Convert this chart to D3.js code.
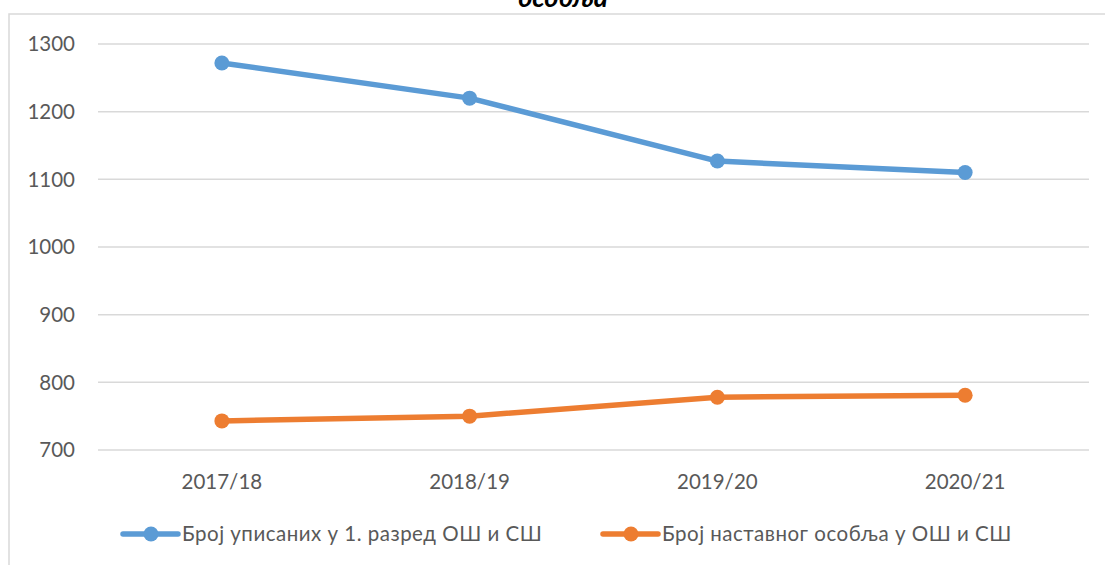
<!DOCTYPE html>
<html>
<head>
<meta charset="utf-8">
<script src="https://cdn.jsdelivr.net/npm/d3@7"></script>
<style>
  html, body { margin: 0; padding: 0; background: #fff; }
  svg { display: block; font-family: Lato, "Open Sans", sans-serif; }
</style>
</head>
<body>
<div id="chart"></div>
<script>
const years = ['2017/18', '2018/19', '2019/20', '2020/21'];
const enrolled = [1272, 1220, 1127, 1110];
const teachers = [743, 750, 778, 781];
const yTicks = [700, 800, 900, 1000, 1100, 1200, 1300];
const seriesNames = ['Број уписаних у 1. разред ОШ и СШ', 'Број наставног особља у ОШ и СШ'];
const seriesColors = ['#5B9BD5', '#ED7D31'];

const width = 1105, height = 565;
const fontSize = 20.5;
const svg = d3.select('#chart').append('svg')
    .attr('width', width)
    .attr('height', height);

// chart frame (partially cropped in the source)
svg.append('rect')
    .attr('x', 9).attr('y', 14)
    .attr('width', 1200).attr('height', 600)
    .attr('fill', 'none')
    .attr('stroke', '#d9d9d9')
    .attr('stroke-width', 1.5);

// title, cut off at the top like in the source image
svg.append('text')
    .attr('x', 563).attr('y', 7)
    .attr('text-anchor', 'middle')
    .attr('font-weight', 'bold')
    .attr('font-style', 'italic')
    .attr('font-size', 27)
    .attr('fill', '#000')
    .text('особља');

const x = d3.scaleBand().domain(years).range([98, 1089]);
const y = d3.scaleLinear().domain([700, 1300]).range([450, 44]);

// gridlines
svg.append('g')
    .selectAll('line')
    .data(yTicks)
    .enter().append('line')
    .attr('x1', 98).attr('x2', 1089)
    .attr('y1', d => y(d)).attr('y2', d => y(d))
    .attr('stroke', '#d9d9d9')
    .attr('stroke-width', 1.5);

// y labels
svg.append('g')
    .selectAll('text')
    .data(yTicks)
    .enter().append('text')
    .attr('x', 75)
    .attr('y', d => y(d))
    .attr('dy', '0.35em')
    .attr('text-anchor', 'end')
    .attr('font-size', fontSize)
    .attr('fill', '#595959')
    .text(d => d);

// x labels
svg.append('g')
    .selectAll('text')
    .data(years)
    .enter().append('text')
    .attr('x', d => x(d) + x.bandwidth() / 2)
    .attr('y', 482)
    .attr('dy', '0.35em')
    .attr('text-anchor', 'middle')
    .attr('font-size', fontSize)
    .attr('fill', '#595959')
    .text(d => d);

const line = d3.line()
    .x((d, i) => x(years[i]) + x.bandwidth() / 2)
    .y(d => y(d));

[enrolled, teachers].forEach((values, k) => {
    const g = svg.append('g');
    g.append('path')
        .datum(values)
        .attr('d', line)
        .attr('fill', 'none')
        .attr('stroke', seriesColors[k])
        .attr('stroke-width', 5.5)
        .attr('stroke-linejoin', 'round')
        .attr('stroke-linecap', 'round');
    g.selectAll('circle')
        .data(values)
        .enter().append('circle')
        .attr('cx', (d, i) => x(years[i]) + x.bandwidth() / 2)
        .attr('cy', d => y(d))
        .attr('r', 7.5)
        .attr('fill', seriesColors[k]);
});

// legend
const legendX = [123, 603];
const legend = svg.append('g')
    .selectAll('g')
    .data(seriesNames)
    .enter().append('g')
    .attr('transform', (d, i) => `translate(${legendX[i]},534)`);
legend.append('line')
    .attr('x1', 0).attr('x2', 55)
    .attr('stroke', (d, i) => seriesColors[i])
    .attr('stroke-width', 5.5)
    .attr('stroke-linecap', 'round');
legend.append('circle')
    .attr('cx', 28).attr('r', 7.5)
    .attr('fill', (d, i) => seriesColors[i]);
legend.append('text')
    .attr('x', 59)
    .attr('dy', '0.35em')
    .attr('font-size', fontSize)
    .attr('letter-spacing', 0.5)
    .attr('fill', '#595959')
    .text(d => d);
</script>
</body>
</html>
